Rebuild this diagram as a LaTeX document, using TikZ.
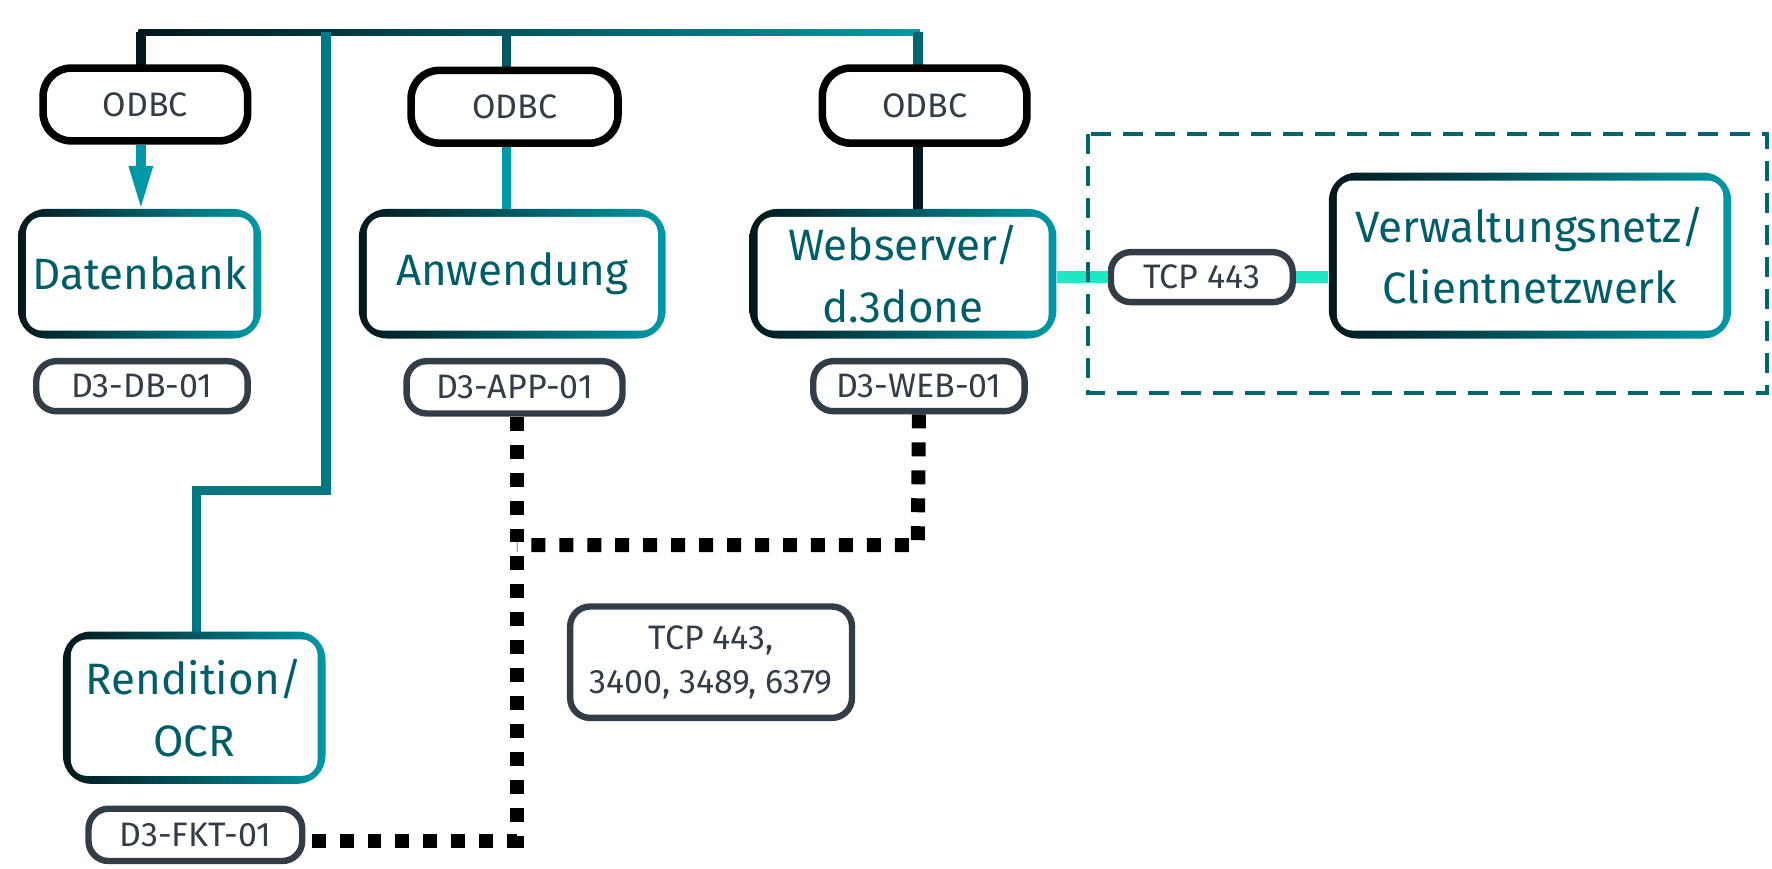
\documentclass[tikz,border=0pt]{standalone}
\usepackage{fontspec}
\setmainfont{Fira Sans}
\usetikzlibrary{positioning}
\definecolor{dk}{HTML}{02181C}
\definecolor{tl}{HTML}{0098A6}
\definecolor{aq}{HTML}{1DE8C4}
\definecolor{gy}{HTML}{333D47}
\tikzset{
  host/.style={shade, left color=dk, right color=tl, rounded corners=7pt, inner sep=0pt,
    text=dk!45!tl, font=\fontsize{11}{15.5}\selectfont, align=center,
    path picture={\fill[white, rounded corners=4pt]
      ([shift={(7,-7)}]path picture bounding box.south west) rectangle
      ([shift={(-7,7)}]path picture bounding box.north east);}},
  tag/.style={draw=gy, line width=1.6pt, rounded corners=5pt, fill=white, text=gy,
    font=\fontsize{8.5}{11}\selectfont, inner sep=0pt, align=center},
  odbc/.style={tag, draw=black, line width=1.9pt, rounded corners=7pt},
  link/.style={line width=2.4pt, draw=tl},
  dots/.style={line width=3.5pt, dash pattern=on 3.5pt off 3.5pt, draw=black}
}
\begin{document}
\begin{tikzpicture}[x=0.01cm, y=-0.01cm]
\useasboundingbox (0,0) rectangle (1560,765);
% Verbindungen
\shade[left color=dk, right color=tl] (122,26) rectangle (810,31);
\draw[line width=2.4pt, draw=dk] (124,28) -- (124,62);
\draw[line width=2.4pt, draw=dk!50!tl] (446,28) -- (446,62);
\draw[line width=2.4pt, draw=dk!40!tl] (808,28) -- (808,62);
\draw[line width=2.4pt, draw=dk!25!tl] (287,28) -- (287,432) -- (173,432) -- (173,556);
% Rechner
\node[host, minimum width=2.14cm, minimum height=1.14cm] (db) at (123,241) {Datenbank};
\node[host, minimum width=2.70cm, minimum height=1.14cm] (app) at (451,241) {Anwendung};
\node[host, minimum width=2.70cm, minimum height=1.14cm] (web) at (795,241) {Webserver/\\d.3done};
\node[host, minimum width=2.31cm, minimum height=1.34cm] (fkt) at (171,623) {Rendition/\\OCR};
\node[host, minimum width=3.54cm, minimum height=1.46cm] (net) at (1347,225) {Verwaltungsnetz/\\Clientnetzwerk};
% Treiber
\node[odbc, minimum width=1.80cm, minimum height=0.64cm] (o1) at (128,92) {ODBC};
\node[odbc, minimum width=1.82cm, minimum height=0.64cm] (o2) at (453,94) {ODBC};
\node[odbc, minimum width=1.80cm, minimum height=0.66cm] (o3) at (814,93) {ODBC};
\draw[line width=2.4pt, draw=tl] (o1.south -| 124,0) -- (124,146);
\fill[tl] (113,146) -- (135,146) -- (124,182) -- cycle;
\draw[link] (o2.south -| 446,0) -- (446,184);
\draw[line width=2.4pt, draw=dk] (o3.south -| 808,0) -- (808,184);
% Namen
\node[tag, minimum width=1.86cm, minimum height=0.44cm] (ndb) at (125,340) {D3-DB-01};
\node[tag, minimum width=1.90cm, minimum height=0.46cm] (napp) at (453,341) {D3-APP-01};
\node[tag, minimum width=1.86cm, minimum height=0.44cm] (nweb) at (809,340) {D3-WEB-01};
\node[tag, minimum width=1.88cm, minimum height=0.46cm] (nfkt) at (172,735) {D3-FKT-01};
\node[tag, minimum width=1.60cm, minimum height=0.44cm] (tcp) at (1058,244) {TCP 443};
\node[tag, minimum width=2.48cm, minimum height=0.98cm] (ports) at (626,583) {TCP 443,\\3400, 3489, 6379};
\draw[line width=3pt, draw=aq] (web.east |- tcp) -- (tcp.west);
\draw[line width=3pt, draw=aq] (tcp.east) -- (net.west |- tcp);
\draw[line width=1pt, dash pattern=on 5pt off 3pt, draw=dk!40!tl] (958,118) rectangle (1556,346);
% Ports
\coordinate (k) at (455,480);
\coordinate (m) at (455,740);
\draw[dots] (napp.south -| k) -- (m) -- (nfkt.east |- m);
\draw[dots] (nweb.south) -- (808,480) -- (k);
\end{tikzpicture}
\end{document}
